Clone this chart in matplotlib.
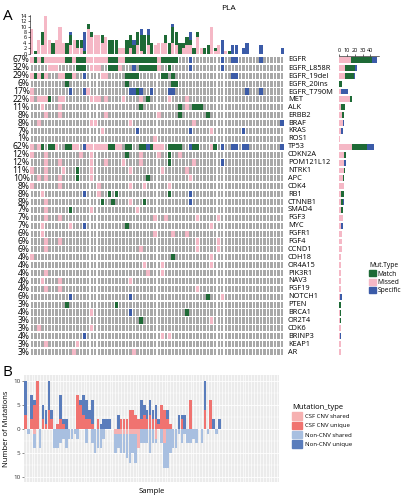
import numpy as np
import matplotlib.pyplot as plt
from matplotlib.patches import Patch

plt.rcParams['font.family'] = ['Open Sans', 'DejaVu Sans']

W, H = 405, 500
n_samples = 72

genes = ['EGFR', 'EGFR_L858R', 'EGFR_19del', 'EGFR_20ins', 'EGFR_T790M', 'MET', 'ALK', 'ERBB2',
         'BRAF', 'KRAS', 'ROS1', 'TP53', 'CDKN2A', 'POM121L12', 'NTRK1', 'APC', 'CDK4', 'RB1',
         'CTNNB1', 'SMAD4', 'FGF3', 'MYC', 'FGFR1', 'FGF4', 'CCND1', 'CDH18', 'OR4A15', 'PIK3R1',
         'NAV3', 'FGF19', 'NOTCH1', 'PTEN', 'BRCA1', 'OR2T4', 'CDK6', 'BRINP3', 'KEAP1', 'AR']
pcts = ['67%', '32%', '29%', '6%', '17%', '22%', '11%', '8%', '8%', '7%', '1%', '62%', '12%',
        '12%', '11%', '10%', '8%', '8%', '8%', '7%', '7%', '7%', '6%', '6%', '6%', '4%', '4%',
        '4%', '4%', '4%', '6%', '3%', '4%', '3%', '3%', '4%', '3%', '3%']

# sample columns per gene, one list per mutation type
match_cols = [
    [1, 3, 10, 11, 13, 14, 15, 22, 23, 24, 27, 28, 29, 30, 31, 32, 33, 34, 35, 37, 38, 39, 40, 41],
    [13, 14, 15, 22, 23, 24, 31, 32, 33, 34, 35, 39],
    [1, 3, 10, 11, 27, 28, 29, 30, 37, 38, 40],
    [10, 27, 40, 41],
    [30],
    [5, 33],
    [31, 42, 46, 47, 48],
    [42, 50],
    [], [], [],
    [3, 5, 6, 10, 11, 22, 23, 27, 28, 31, 32, 34, 39, 40, 41, 42, 46, 47, 52],
    [27, 39],
    [39],
    [13],
    [13, 33],
    [],
    [22, 24, 39],
    [20, 23, 32],
    [11],
    [], [27], [], [], [],
    [40], [], [], [], [],
    [50], [10, 24], [44], [31], [], [], [], [],
]
missed_cols = [
    [0, 2, 4, 5, 6, 7, 8, 9, 12, 16, 17, 18, 19, 20, 21, 25, 26, 36],
    [5, 6, 7, 17, 18, 19, 25, 36],
    [0, 2, 4, 8, 9, 12, 20, 21],
    [],
    [0, 16],
    [0, 2, 3, 4, 8, 9, 17, 18, 19, 21, 26, 31, 39, 44],
    [3, 8, 44],
    [4, 8, 21, 36],
    [2, 17, 18, 28, 46],
    [20, 51],
    [35],
    [0, 2, 7, 12, 13, 16, 17, 18, 19, 20, 21, 24, 25, 35, 36, 37, 51],
    [0, 4, 14, 17, 31, 36, 42],
    [4, 8, 17, 21, 26, 31, 46],
    [0, 4, 9, 17, 28, 37, 44],
    [2, 4, 8, 17, 45],
    [0, 8, 19, 28, 32, 39],
    [3, 19],
    [4, 28],
    [4, 17, 30],
    [4, 8, 35, 38, 47, 53],
    [3, 11, 51],
    [3, 35, 40, 44],
    [4, 8, 47, 53],
    [4, 31, 47, 53],
    [0, 51],
    [32, 37, 51],
    [4, 33, 37],
    [3, 8, 28],
    [4, 8, 47],
    [54], [], [17], [51], [2, 17], [37, 39], [4, 13], [12, 29],
]
specific_cols = [
    [45, 54, 57, 58, 65],
    [29, 45, 54],
    [15, 57, 58],
    [],
    [11, 15, 28, 29, 31, 34, 39, 40, 61, 65],
    [], [], [],
    [71],
    [30, 45, 60],
    [],
    [15, 33, 45, 54, 57, 58, 60, 61, 71],
    [],
    [54],
    [], [], [],
    [15, 45],
    [45],
    [], [], [15], [], [], [], [], [], [], [], [],
    [11, 28], [], [28], [], [], [15], [], [],
]

# alterations per sample (top bars)
top_missed = [9, 0, 5, 3, 14, 5, 0, 5, 10, 4, 0, 3, 5, 2, 2, 0, 9, 6, 7, 7,
              4, 6, 0, 0, 0, 2, 2, 0, 2, 0, 3, 1, 0, 3, 0, 3, 4, 4, 4, 0,
              4, 3, 0, 2, 3, 3, 0, 6, 2, 0, 0, 10, 1, 3, 0, 1, 0, 0, 0, 0,
              0, 0, 0, 0, 0, 0, 0, 0, 0, 0, 0, 0]
top_match = [0, 1, 0, 5, 0, 0, 4, 0, 0, 0, 4, 4, 0, 3, 3, 1, 2, 2, 0, 0,
             3, 0, 5, 5, 5, 0, 0, 5, 5, 3, 5, 6, 7, 4, 4, 0, 0, 0, 3, 4,
             6, 5, 4, 2, 3, 2, 2, 2, 0, 2, 3, 0, 1, 0, 0, 0, 1, 0, 0, 0,
             0, 0, 0, 0, 0, 0, 0, 0, 0, 0, 0, 0]
top_specific = [0, 0, 0, 0, 0, 0, 0, 0, 0, 0, 0, 1, 0, 0, 0, 7, 0, 0, 0, 0,
                0, 0, 0, 0, 0, 0, 0, 0, 0, 2, 0, 2, 0, 2, 0, 0, 0, 0, 0, 0,
                1, 0, 0, 0, 0, 3, 0, 0, 0, 0, 0, 0, 0, 0, 5, 0, 0, 3, 3, 0,
                2, 4, 0, 0, 0, 3, 0, 0, 0, 0, 0, 2]

# alterations per gene (right bars)
right_missed = [15, 8, 8, 0, 2, 14, 3, 4, 5, 2, 1, 17, 7, 7, 7, 5, 6, 2, 2, 3,
                5, 3, 4, 4, 4, 2, 3, 3, 3, 3, 1, 0, 1, 1, 2, 1, 2, 2]
right_match = [27, 12, 11, 4, 0, 2, 5, 2, 0, 0, 0, 19, 2, 0, 1, 2, 0, 4, 3, 2,
               0, 0, 0, 0, 0, 1, 0, 0, 0, 0, 0, 2, 2, 1, 0, 0, 0, 0]
right_specific = [6, 3, 2, 0, 10, 0, 0, 0, 1, 3, 0, 9, 0, 2, 0, 0, 0, 0, 1, 0,
                  0, 2, 0, 0, 0, 0, 0, 0, 0, 0, 3, 0, 0, 0, 0, 2, 0, 0]

# panel B, mutations per sample
b_csf_unique = [3, 0, 2, 5, 10, 0, 2, 1, 4, 2, 0, 1, 2, 1, 0, 0, 0, 0, 7, 5,
                3, 2, 2, 1, 0, 2, 0, 0, 0, 0, 0, 0, 0, 2, 2, 2, 4, 4, 3, 2,
                2, 3, 2, 3, 2, 2, 1, 5, 4, 2, 1, 0, 0, 0, 2, 0, 0, 6, 0, 0,
                0, 0, 4, 0, 6, 0, 0, 0] + [0] * 20
b_noncnv_unique = [7, 0, 5, 1, 0, 0, 3, 3, 6, 2, 0, 0, 5, 1, 2, 0, 0, 0, 0, 1,
                   4, 4, 2, 5, 0, 0, 1, 2, 2, 2, 0, 0, 3, 0, 0, 0, 0, 0, 0, 0,
                   4, 2, 2, 3, 2, 3, 1, 0, 0, 2, 0, 0, 0, 3, 1, 3, 0, 0, 0, 0,
                   0, 0, 6, 0, 0, 2, 0, 2] + [0] * 20
b_csf_shared = [0, 0, 0, 1, 0, 0, 0, 0, 0, 0, 0, 0, 0, 0, 0, 0, 0, 0, 0, 0,
                0, 0, 0, 0, 0, 0, 0, 0, 0, 0, 0, 1, 1, 1, 1, 1, 1, 1, 1, 4,
                0, 0, 0, 0, 0, 2, 0, 0, 3, 0, 0, 0, 0, 0, 0, 0, 0, 0, 0, 0,
                0, 0, 0, 0, 0, 0, 0, 0] + [0] * 20
b_noncnv_shared = [0, 1, 0, 3, 0, 4, 0, 0, 0, 0, 4, 4, 3, 2, 4, 2, 2, 1, 2, 0,
                   0, 3, 0, 3, 5, 4, 4, 2, 0, 0, 0, 4, 3, 4, 4, 5, 6, 4, 6, 0,
                   3, 3, 3, 5, 3, 1, 0, 3, 5, 8, 5, 4, 4, 1, 3, 1, 3, 3, 2, 3,
                   0, 3, 0, 1, 0, 0, 1, 0] + [0] * 20

c_match, c_missed, c_spec, c_grey = '#1e6a36', '#f5b8c6', '#3b5ba8', '#a8a8a8'
c_csf_sh, c_csf_un, c_non_sh, c_non_un = '#f6b1b1', '#f07370', '#a8bfe0', '#5a7dbc'


def axrect(x0, y0, x1, y1):
    return [x0 / W, 1 - y1 / H, (x1 - x0) / W, (y1 - y0) / H]


fig = plt.figure(figsize=(W / 100, H / 100), dpi=100)
fig.text(3 / W, 1 - 16 / H, 'A', fontsize=11, va='center')
fig.text(3 / W, 1 - 372 / H, 'B', fontsize=11, va='center')
fig.text(228 / W, 1 - 8 / H, 'PLA', fontsize=6, ha='center', va='center')

# top bars
ax_top = fig.add_axes(axrect(30, 14.5, 284, 53.5))
x = np.arange(n_samples)
tm = np.array(top_missed)
tg = np.array(top_match)
ts = np.array(top_specific)
ax_top.bar(x, tm, width=0.9, color=c_missed)
ax_top.bar(x, tg, bottom=tm, width=0.9, color=c_match)
ax_top.bar(x, ts, bottom=tm + tg, width=0.9, color=c_spec)
ax_top.set_xlim(-0.5, n_samples - 0.5)
ax_top.set_ylim(0, 14.5)
ax_top.set_yticks(range(0, 15, 2))
ax_top.tick_params(axis='y', labelsize=4, length=1.5, width=0.4, pad=1)
ax_top.set_xticks([])
for s in ['top', 'right', 'bottom']:
    ax_top.spines[s].set_visible(False)
ax_top.spines['left'].set_linewidth(0.4)

# oncoprint grid
ax = fig.add_axes(axrect(30, 56, 284, 356))
n_genes = len(genes)
for r in range(n_genes):
    colored = set(match_cols[r]) | set(missed_cols[r]) | set(specific_cols[r])
    grey = [c for c in range(n_samples) if c not in colored]
    ax.bar(grey, 0.78, bottom=r - 0.39, width=0.7, color=c_grey)
    ax.bar(missed_cols[r], 0.78, bottom=r - 0.39, width=1.0, color=c_missed)
    ax.bar(match_cols[r], 0.78, bottom=r - 0.39, width=1.0, color=c_match)
    ax.bar(specific_cols[r], 0.78, bottom=r - 0.39, width=1.0, color=c_spec)
    ax.text(-0.6, r, pcts[r], ha='right', va='center', fontsize=6.2)
    ax.text(n_samples + 0.6, r, genes[r], ha='left', va='center', fontsize=5.3)
ax.set_xlim(-0.5, n_samples - 0.5)
ax.set_ylim(n_genes - 0.5, -0.5)
ax.axis('off')

# right bars
ax_r = fig.add_axes(axrect(339, 56, 379, 356))
y = np.arange(n_genes)
rm = np.array(right_missed)
rg = np.array(right_match)
rs = np.array(right_specific)
ax_r.barh(y, rm, height=0.75, color=c_missed)
ax_r.barh(y, rg, left=rm, height=0.75, color=c_match)
ax_r.barh(y, rs, left=rm + rg, height=0.75, color=c_spec)
ax_r.set_ylim(n_genes - 0.5, -0.5)
ax_r.set_xlim(0, 51)
ax_r.xaxis.tick_top()
ax_r.set_xticks([0, 10, 20, 30, 40])
ax_r.tick_params(axis='x', labelsize=4, length=1.5, width=0.4, pad=1)
ax_r.set_yticks([])
for s in ['bottom', 'right', 'left']:
    ax_r.spines[s].set_visible(False)
ax_r.spines['top'].set_linewidth(0.4)

fig.legend(handles=[Patch(color=c_match), Patch(color=c_missed), Patch(color=c_spec)],
           labels=['Match', 'Missed', 'Specific'], title='Mut.Type',
           loc='upper left', bbox_to_anchor=(366 / W, 1 - 259 / H), frameon=False,
           fontsize=4.8, title_fontsize=4.8, handlelength=1.0, handleheight=1.0,
           handletextpad=0.25, labelspacing=0.15, borderpad=0, alignment='left')

# panel B
b_n = len(b_csf_unique)
xb = np.arange(b_n)
cu = np.array(b_csf_unique)
nu = np.array(b_noncnv_unique)
cs = np.array(b_csf_shared)
ns = np.array(b_noncnv_shared)
axb = fig.add_axes(axrect(24, 375, 279, 482))
axb.set_facecolor('#ebebeb')
for v in [-7.5, -2.5, 2.5, 7.5]:
    axb.axhline(v, color='white', lw=0.3, zorder=1)
for v in [-10, -5, 0, 5, 10]:
    axb.axhline(v, color='white', lw=0.6, zorder=1)
for xv in xb:
    axb.axvline(xv, color='white', lw=0.5, zorder=1)
axb.bar(xb, cu, width=0.9, color=c_csf_un, zorder=3)
axb.bar(xb, nu, bottom=cu, width=0.9, color=c_non_un, zorder=3)
axb.bar(xb, -cs, width=0.9, color=c_csf_sh, zorder=3)
axb.bar(xb, -ns, bottom=-cs, width=0.9, color=c_non_sh, zorder=3)
axb.set_xlim(-0.6, b_n - 0.4)
axb.set_ylim(-11, 11.2)
axb.set_yticks([-10, -5, 0, 5, 10])
axb.set_yticklabels(['10', '5', '0', '5', '10'])
axb.set_xticks([])
axb.tick_params(axis='y', labelsize=4.5, length=1.5, width=0.4, pad=1, colors='#333333')
for s in axb.spines.values():
    s.set_visible(False)
axb.set_xlabel('Sample', fontsize=5.5, labelpad=4)
axb.set_ylabel('Number of Mutations', fontsize=5.5, labelpad=2)

fig.legend(handles=[Patch(color=c) for c in [c_csf_sh, c_csf_un, c_non_sh, c_non_un]],
           labels=['CSF CNV shared', 'CSF CNV unique', 'Non-CNV shared', 'Non-CNV unique'],
           title='Mutation_type', loc='upper left', bbox_to_anchor=(289 / W, 1 - 401 / H),
           frameon=False, fontsize=4.3, title_fontsize=5.5, handlelength=1.6, handleheight=1.6,
           handletextpad=0.5, labelspacing=0.25, borderpad=0, alignment='left')

fig.savefig('out.png', dpi=100)
